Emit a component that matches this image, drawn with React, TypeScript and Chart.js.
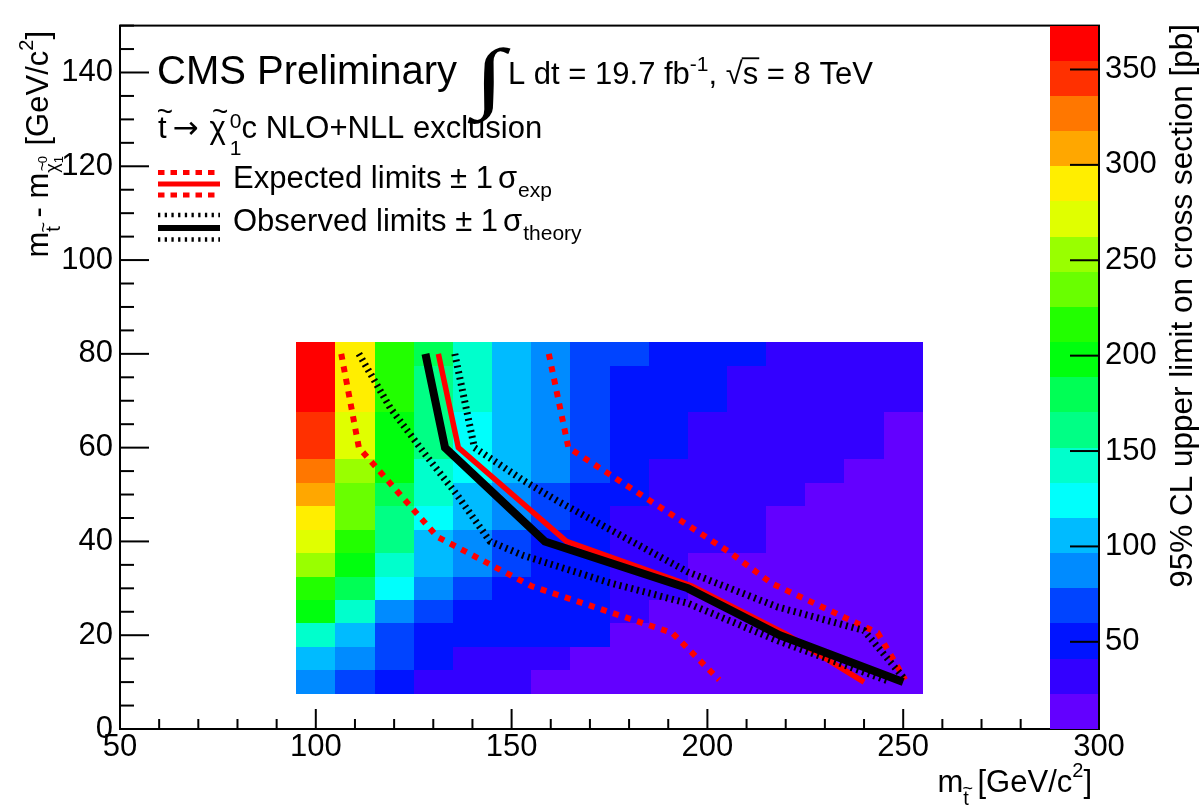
import React, { useEffect, useRef } from "react";
import { Chart, registerables } from "chart.js";

Chart.register(...registerables);

const FONT = "'Liberation Sans', Arial, Helvetica, sans-serif";

// ---------------- data ----------------
const stopMasses = [100, 110, 120, 130, 140, 150, 160, 170, 180, 190, 200, 210, 220, 230, 240, 250];
const massSplittings = [10, 15, 20, 25, 30, 35, 40, 45, 50, 55, 60, 65, 70, 75, 80];

// 95% CL upper limit on cross section [pb]; one array per stop mass, ordered like massSplittings
const limitM100 = [88, 104, 141, 197, 214, 251, 270, 289, 308, 326, 342, 349, 361, 368, 373];
const limitM110 = [69, 86, 105, 142, 178, 196, 215, 230, 240, 254, 266, 275, 284, 291, 297];
const limitM120 = [52, 66, 74, 90, 125, 140, 158, 167, 181, 192, 199, 205, 210, 217, 222];
const limitM130 = [36, 45, 55, 70, 88, 100, 110, 125, 137, 148, 155, 160, 165, 168, 175];
const limitM140 = [30, 39, 46, 57, 68, 82, 93, 99, 110, 118, 124, 130, 136, 141, 146];
const limitM150 = [27, 35, 43, 50, 57, 63, 73, 81, 92, 98, 102, 105, 108, 110, 112];
const limitM160 = [20, 33, 42, 47, 51, 55, 58, 62, 70, 80, 83, 86, 88, 90, 92];
const limitM170 = [15, 21, 42, 44, 47, 49, 52, 55, 58, 61, 64, 66, 68, 70, 72];
const limitM180 = [12, 17, 21, 25, 29, 33, 36, 40, 43, 46, 49, 52, 55, 58, 61];
const limitM190 = [10, 13, 16, 20, 24, 27, 30, 33, 36, 39, 42, 44, 47, 49, 52];
const limitM200 = [8, 10, 12, 15, 18, 21, 24, 27, 30, 33, 36, 39, 42, 44, 46];
const limitM210 = [7, 9, 11, 13, 16, 19, 23, 25, 28, 30, 33, 35, 37, 39, 42];
const limitM220 = [6, 8, 9, 11, 13, 15, 18, 21, 24, 26, 28, 30, 32, 34, 36];
const limitM230 = [5.5, 7, 8, 10, 12, 14, 16, 19, 21, 24, 26, 27, 29, 30, 32];
const limitM240 = [5, 6, 7, 9, 10, 12, 13, 15, 17, 19, 23, 24, 26, 27, 29];
const limitM250 = [4.3, 5, 6, 7, 8, 9, 10, 12, 13, 15, 17, 19, 23, 25, 26];

const limitGrid = [
  limitM100, limitM110, limitM120, limitM130, limitM140, limitM150, limitM160, limitM170,
  limitM180, limitM190, limitM200, limitM210, limitM220, limitM230, limitM240, limitM250,
];

// exclusion contours
const observedX = [128, 133, 158.5, 195, 218.5, 250];
const observedY = [80, 60, 40, 30, 20, 10];
const observedUpX = [135.5, 140.5, 153, 162, 195, 218, 240, 250];
const observedUpY = [80, 60, 53, 48.5, 33.5, 26, 21, 11];
const observedDownX = [111, 119, 128, 136, 144.5, 153, 175, 195, 218, 246];
const observedDownY = [80, 68.5, 58.5, 50, 40, 37, 31.2, 26.8, 18.8, 10.3];
const expectedX = [131.3, 136.4, 164, 196, 220, 240];
const expectedY = [80, 60, 40, 30.5, 20.3, 10];
const expectedUpX = [159.5, 164.5, 206, 216.5, 243.5, 250.5];
const expectedUpY = [80, 60, 37.5, 31, 20.5, 10.5];
const expectedDownX = [106.5, 111, 131, 155, 191, 203];
const expectedDownY = [80, 60, 41, 30.5, 20.5, 10.5];

// axis ticks
const xTickValues = [50, 100, 150, 200, 250, 300];
const yTickValues = [0, 20, 40, 60, 80, 100, 120, 140];
const zTickValues = [50, 100, 150, 200, 250, 300, 350];

// ROOT "pretty" palette, 20 contour levels (low -> high)
const paletteColors = [
  "#6300ff", "#3300ff", "#0014ff", "#0044ff", "#008bff", "#00bbff", "#00fffc", "#00ffcc",
  "#00ff85", "#00ff55", "#00ff0e", "#22ff00", "#69ff00", "#99ff00", "#e0ff00", "#ffee00",
  "#ffa700", "#ff7700", "#ff3000", "#ff0000",
];

const allValues = limitGrid.flat();
const zMin = Math.min(...allValues);
const zMax = Math.max(...allValues);
const nLevels = paletteColors.length;
const levelWidth = (zMax - zMin) / nLevels;

function colorFor(v: number) {
  let k = Math.floor((v - zMin) / levelWidth);
  if (k < 0) k = 0;
  if (k > nLevels - 1) k = nLevels - 1;
  return paletteColors[k];
}

// ---------------- rich text ----------------
type Seg = {
  text: string;
  size: number;
  dy?: number;
  gap?: number;
  tilde?: boolean;
  stay?: boolean;
  overline?: boolean;
  family?: string;
};

function segWidth(ctx: CanvasRenderingContext2D, s: Seg) {
  ctx.font = `${s.size}px ${s.family ?? FONT}`;
  return ctx.measureText(s.text).width;
}

function richWidth(ctx: CanvasRenderingContext2D, segs: Seg[]) {
  let w = 0;
  let held = 0;
  for (const s of segs) {
    const sw = segWidth(ctx, s);
    w += s.gap ?? 0;
    if (s.stay) held = sw;
    else {
      w += Math.max(sw, held);
      held = 0;
    }
  }
  return w;
}

function drawRich(ctx: CanvasRenderingContext2D, segs: Seg[], x: number, y: number, align: "left" | "right" = "left") {
  let cx = align === "right" ? x - richWidth(ctx, segs) : x;
  let held = 0;
  ctx.textAlign = "left";
  ctx.textBaseline = "alphabetic";
  ctx.fillStyle = "#000";
  ctx.strokeStyle = "#000";
  for (const s of segs) {
    cx += s.gap ?? 0;
    const sw = segWidth(ctx, s);
    const by = y + (s.dy ?? 0);
    ctx.fillText(s.text, cx, by);
    if (s.tilde) {
      const ts = s.size * 0.9;
      ctx.font = `${ts}px ${FONT}`;
      const tw = ctx.measureText("~").width;
      ctx.fillText("~", cx + sw / 2 - tw / 2 + s.size * 0.08, by - s.size * 0.86 + ts * 0.33);
    }
    if (s.overline) {
      ctx.lineWidth = Math.max(1.5, s.size * 0.06);
      ctx.beginPath();
      ctx.moveTo(cx - 1, by - s.size * 0.83);
      ctx.lineTo(cx + sw + 1, by - s.size * 0.83);
      ctx.stroke();
    }
    if (s.stay) held = sw;
    else {
      cx += Math.max(sw, held);
      held = 0;
    }
  }
}

function legendLine(ctx: CanvasRenderingContext2D, x0: number, x1: number, y: number, color: string, width: number, dash: number[]) {
  ctx.save();
  ctx.strokeStyle = color;
  ctx.lineWidth = width;
  ctx.lineCap = "butt";
  ctx.setLineDash(dash);
  ctx.beginPath();
  ctx.moveTo(x0, y);
  ctx.lineTo(x1, y);
  ctx.stroke();
  ctx.restore();
}

// ---------------- plugin ----------------
const rootStylePlugin = {
  id: "rootStyle",
  beforeDatasetsDraw(chart: any) {
    const { ctx } = chart;
    const xs = chart.scales.x;
    const ys = chart.scales.y;
    const binW = stopMasses[1] - stopMasses[0];
    const binH = massSplittings[1] - massSplittings[0];
    ctx.save();
    limitGrid.forEach((col, i) => {
      const xc = stopMasses[i];
      const x0 = Math.round(xs.getPixelForValue(xc - binW / 2));
      const x1 = Math.round(xs.getPixelForValue(xc + binW / 2));
      col.forEach((v, j) => {
        const yc = massSplittings[j];
        const y0 = Math.round(ys.getPixelForValue(yc + binH / 2));
        const y1 = Math.round(ys.getPixelForValue(yc - binH / 2));
        ctx.fillStyle = colorFor(v);
        ctx.fillRect(x0, y0, x1 - x0, y1 - y0);
      });
    });
    ctx.restore();
  },
  afterDatasetsDraw(chart: any) {
    const { ctx, chartArea } = chart;
    const xs = chart.scales.x;
    const ys = chart.scales.y;
    const zs = chart.scales.z;
    const { left, right, top, bottom } = chartArea;
    ctx.save();
    ctx.strokeStyle = "#000";
    ctx.lineCap = "butt";
    ctx.setLineDash([]);

    // frame
    ctx.lineWidth = 2;
    ctx.strokeRect(left, top, right - left, bottom - top);

    // x ticks (inside)
    for (let v = xs.min; v <= xs.max + 1e-6; v += 10) {
      const px = xs.getPixelForValue(v);
      const len = Math.abs(v % 50) < 1e-6 ? 20 : 10;
      ctx.beginPath();
      ctx.moveTo(px, bottom);
      ctx.lineTo(px, bottom - len);
      ctx.stroke();
    }
    // y ticks (inside)
    for (let v = ys.min; v <= ys.max + 1e-6; v += 5) {
      const py = ys.getPixelForValue(v);
      const len = Math.abs(v % 20) < 1e-6 ? 29 : 14;
      ctx.beginPath();
      ctx.moveTo(left, py);
      ctx.lineTo(left + len, py);
      ctx.stroke();
    }

    // palette
    const palLeft = right - 49;
    for (let k = 0; k < nLevels; k++) {
      const lo = zMin + k * levelWidth;
      const hi = lo + levelWidth;
      const y0 = Math.round(zs.getPixelForValue(hi));
      const y1 = Math.round(zs.getPixelForValue(lo));
      ctx.fillStyle = paletteColors[k];
      ctx.fillRect(palLeft, y0, right - palLeft, y1 - y0);
    }
    ctx.lineWidth = 2;
    ctx.beginPath();
    ctx.moveTo(right, top);
    ctx.lineTo(right, bottom);
    ctx.stroke();
    zTickValues.forEach((v) => {
      const py = zs.getPixelForValue(v);
      ctx.beginPath();
      ctx.moveTo(right, py);
      ctx.lineTo(right - 29, py);
      ctx.stroke();
    });

    // ---- text ----
    ctx.fillStyle = "#000";
    drawRich(ctx, [{ text: "CMS Preliminary", size: 40 }], 157, 84);
    // big integral sign
    ctx.save();
    ctx.translate(474, 102.5);
    ctx.scale(1.45, 1);
    ctx.font = `78px 'Liberation Serif', 'DejaVu Serif', serif`;
    ctx.textAlign = "left";
    ctx.textBaseline = "alphabetic";
    ctx.fillText("\u222B", 0, 0);
    ctx.restore();
    drawRich(
      ctx,
      [
        { text: "L dt = 19.7 fb", size: 31 },
        { text: "-1", size: 21, dy: -13 },
        { text: ", ", size: 31 },
        { text: "\u221A", size: 31 },
        { text: "s", size: 31, overline: true },
        { text: " = 8 TeV", size: 31 },
      ],
      508,
      84
    );
    drawRich(
      ctx,
      [
        { text: "t", size: 31, tilde: true },
        { text: "\u2192", size: 31, gap: 6, family: "'DejaVu Sans', sans-serif" },
        { text: "\u03C7", size: 31, tilde: true, gap: 11 },
        { text: "0", size: 21, dy: -10, stay: true, gap: 4 },
        { text: "1", size: 21, dy: 17 },
        { text: "c NLO+NLL exclusion", size: 31 },
      ],
      158,
      138
    );

    // legend
    legendLine(ctx, 158, 220, 172.5, "#ff0000", 5, [6.5, 6]);
    legendLine(ctx, 158, 220, 184, "#ff0000", 5, []);
    legendLine(ctx, 158, 220, 195, "#ff0000", 5, [6.5, 6]);
    legendLine(ctx, 158, 220, 215, "#000000", 4.5, [2.3, 4.4]);
    legendLine(ctx, 158, 220, 228, "#000000", 6, []);
    legendLine(ctx, 158, 220, 239.5, "#000000", 4.5, [2.3, 4.4]);
    drawRich(
      ctx,
      [
        { text: "Expected limits \u00B1 1", size: 31 },
        { text: "\u03C3", size: 31, gap: 5 },
        { text: "exp", size: 21, dy: 9, gap: 1 },
      ],
      233,
      188
    );
    drawRich(
      ctx,
      [
        { text: "Observed limits \u00B1 1", size: 31 },
        { text: "\u03C3", size: 31, gap: 5 },
        { text: "theory", size: 21, dy: 9, gap: 1 },
      ],
      233,
      231
    );

    // x title
    drawRich(
      ctx,
      [
        { text: "m", size: 31 },
        { text: "t", size: 20, dy: 13, tilde: true },
        { text: " [GeV/c", size: 31 },
        { text: "2", size: 20, dy: -15 },
        { text: "]", size: 31 },
      ],
      1092,
      792,
      "right"
    );

    // y title
    ctx.save();
    ctx.translate(48, 31);
    ctx.rotate(-Math.PI / 2);
    drawRich(
      ctx,
      [
        { text: "m", size: 31 },
        { text: "t", size: 20, dy: 12, tilde: true },
        { text: " - m", size: 31 },
        { text: "\u03C7", size: 18, dy: 10, tilde: true },
        { text: "0", size: 13, dy: -1, stay: true },
        { text: "1", size: 13, dy: 15 },
        { text: " [GeV/c", size: 31, gap: 2 },
        { text: "2", size: 20, dy: -15 },
        { text: "]", size: 31 },
      ],
      0,
      0,
      "right"
    );
    ctx.restore();

    // z title
    ctx.save();
    ctx.translate(1192, 24);
    ctx.rotate(-Math.PI / 2);
    drawRich(ctx, [{ text: "95% CL upper limit on cross section [pb]", size: 31.5 }], 0, 0, "right");
    ctx.restore();

    ctx.restore();
  },
};

function toPoints(xs: number[], ys: number[]) {
  return xs.map((x, i) => ({ x, y: ys[i] }));
}

export default function App() {
  const canvasRef = useRef<HTMLCanvasElement | null>(null);

  useEffect(() => {
    document.body.style.margin = "0";
    const canvas = canvasRef.current;
    if (!canvas) return;
    Chart.defaults.font.family = FONT;
    Chart.defaults.color = "#000";

    const line = (data: any, color: string, width: number, dash: number[]) => ({
      data,
      showLine: true,
      borderColor: color,
      backgroundColor: color,
      borderWidth: width,
      borderDash: dash,
      borderCapStyle: "butt",
      borderJoinStyle: "miter",
      pointRadius: 0,
      pointHoverRadius: 0,
      fill: false,
      tension: 0,
    });

    const tickFont = { family: FONT, size: 31 };

    const chart = new Chart(canvas, {
      type: "scatter",
      data: {
        datasets: [
          { label: "Observed", ...line(toPoints(observedX, observedY), "#000000", 8, []) },
          { label: "Observed +1 sigma", ...line(toPoints(observedUpX, observedUpY), "#000000", 7, [2, 4]) },
          { label: "Observed -1 sigma", ...line(toPoints(observedDownX, observedDownY), "#000000", 7, [2, 4]) },
          { label: "Expected", ...line(toPoints(expectedX, expectedY), "#ff0000", 5.5, []) },
          { label: "Expected +1 sigma", ...line(toPoints(expectedUpX, expectedUpY), "#ff0000", 6, [6, 6.7]) },
          { label: "Expected -1 sigma", ...line(toPoints(expectedDownX, expectedDownY), "#ff0000", 6, [6, 6.7]) },
        ] as any,
      },
      options: {
        animation: false,
        responsive: false,
        devicePixelRatio: 1,
        events: [],
        layout: { padding: { top: 25, left: 0, right: 0, bottom: 0 } },
        plugins: { legend: { display: false }, tooltip: { enabled: false } },
        scales: {
          x: {
            type: "linear",
            position: "bottom",
            min: 50,
            max: 300,
            grid: { display: false, drawTicks: false },
            border: { display: false },
            ticks: { font: tickFont, color: "#000", padding: 0, autoSkip: false, maxRotation: 0 },
            afterBuildTicks: (s: any) => {
              s.ticks = xTickValues.map((v) => ({ value: v }));
            },
            afterFit: (s: any) => {
              s.height = 77;
            },
          },
          y: {
            type: "linear",
            position: "left",
            min: 0,
            max: 150,
            grid: { display: false, drawTicks: false },
            border: { display: false },
            ticks: { font: tickFont, color: "#000", padding: 7, autoSkip: false },
            afterBuildTicks: (s: any) => {
              s.ticks = yTickValues.map((v) => ({ value: v }));
            },
            afterFit: (s: any) => {
              s.width = 120;
            },
          },
          z: {
            type: "linear",
            axis: "y",
            position: "right",
            min: zMin,
            max: zMax,
            grid: { display: false, drawTicks: false },
            border: { display: false },
            ticks: { font: tickFont, color: "#000", padding: 6, autoSkip: false },
            afterBuildTicks: (s: any) => {
              s.ticks = zTickValues.map((v) => ({ value: v }));
            },
            afterFit: (s: any) => {
              s.width = 102;
            },
          },
        } as any,
      },
      plugins: [rootStylePlugin],
    });

    return () => chart.destroy();
  }, []);

  return (
    <div style={{ width: 1201, height: 806, background: "#fff", position: "relative" }}>
      <canvas ref={canvasRef} width={1201} height={806} style={{ display: "block", width: 1201, height: 806 }} />
    </div>
  );
}
